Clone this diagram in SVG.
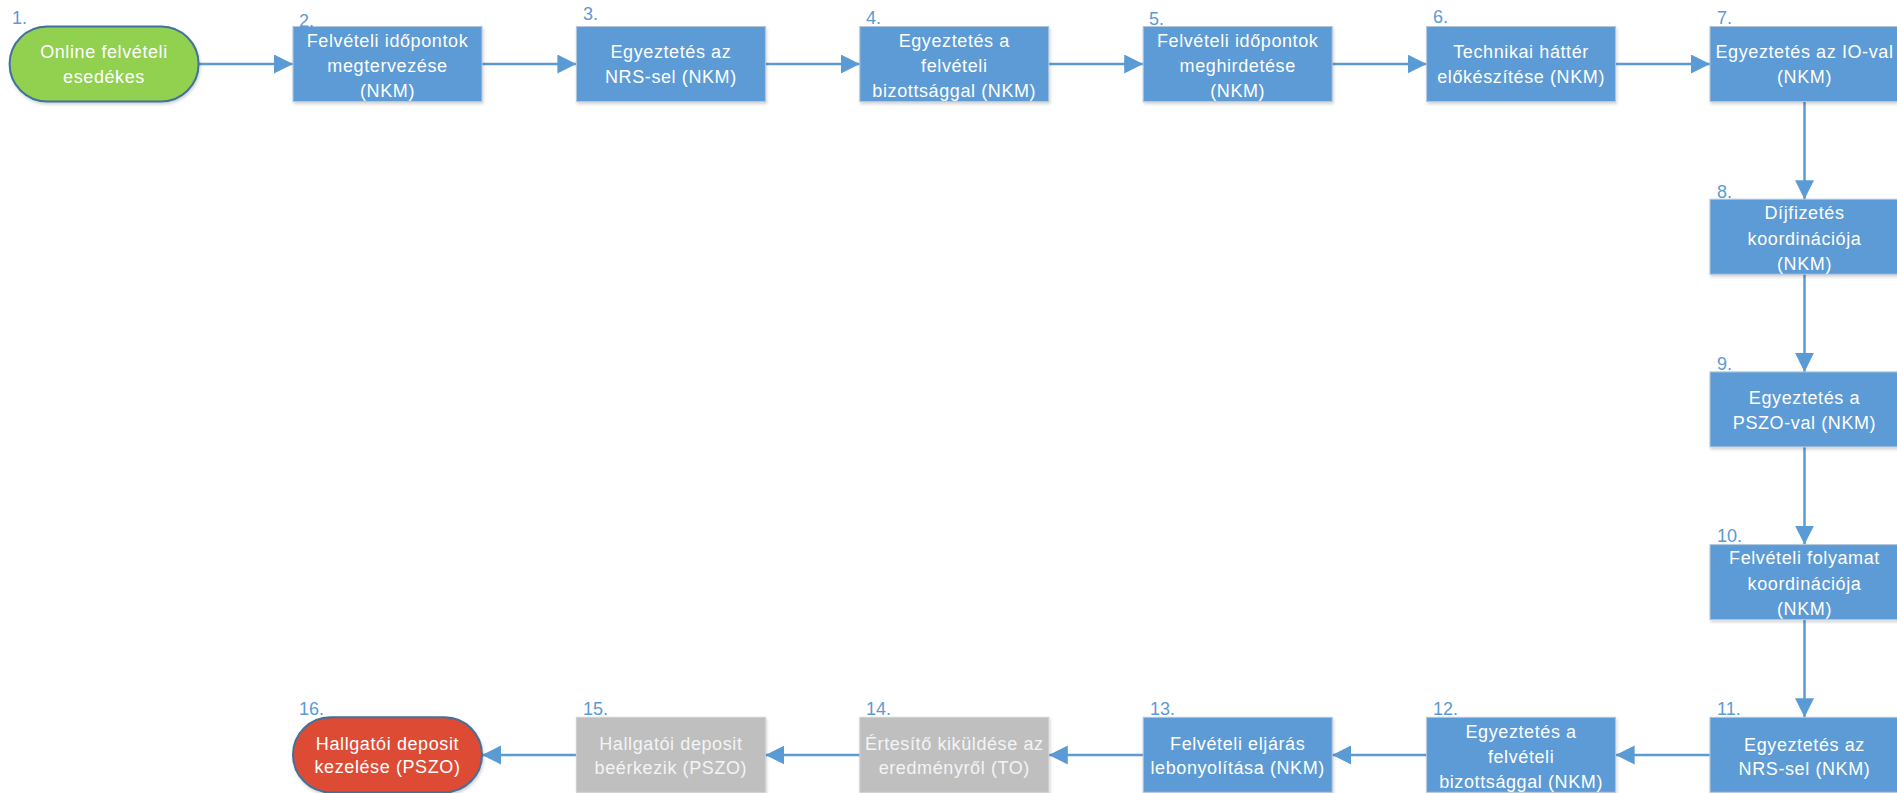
<svg xmlns="http://www.w3.org/2000/svg" width="1897" height="793" viewBox="0 0 1897 793">
<style>
.box{fill:#5B9BD5;stroke:#B4C7DC;stroke-width:1}
.grey{fill:#BFBFBF;stroke:#D0D0D0;stroke-width:1}
.start{fill:#92D050;stroke:#41719C;stroke-width:2}
.end{fill:#DD4B35;stroke:#41719C;stroke-width:2}
.t{font-family:"Liberation Sans",Arial,sans-serif;font-size:18px;fill:#FFFFFF;text-anchor:middle;letter-spacing:0.6px}
.tg{fill:#F4F4F4}
.n{font-family:"Liberation Sans",Arial,sans-serif;font-size:18px;fill:#5B9BD5}
.c{fill:none;stroke:#5B9BD5;stroke-width:2.5}
</style>
<defs>
<marker id="ah" markerUnits="userSpaceOnUse" markerWidth="20" markerHeight="20" refX="19" refY="9.5" orient="auto">
<path d="M0,0 L19,9.5 L0,19 z" fill="#5B9BD5"/>
</marker>
<filter id="sh" x="-10%" y="-10%" width="120%" height="130%">
<feDropShadow dx="1" dy="2" stdDeviation="1.5" flood-color="#000" flood-opacity="0.18"/>
</filter>
</defs>
<rect width="1897" height="793" fill="#FFFFFF"/>
<g id="connectors">
<line class="c" x1="198.6" y1="64" x2="293" y2="64" marker-end="url(#ah)"/>
<line class="c" x1="482" y1="64" x2="576.4" y2="64" marker-end="url(#ah)"/>
<line class="c" x1="765.4" y1="64" x2="859.8" y2="64" marker-end="url(#ah)"/>
<line class="c" x1="1048.8" y1="64" x2="1143.2" y2="64" marker-end="url(#ah)"/>
<line class="c" x1="1332.2" y1="64" x2="1426.6" y2="64" marker-end="url(#ah)"/>
<line class="c" x1="1615.6" y1="64" x2="1710" y2="64" marker-end="url(#ah)"/>
<line class="c" x1="1804.5" y1="101.5" x2="1804.5" y2="199.2" marker-end="url(#ah)"/>
<line class="c" x1="1804.5" y1="274.2" x2="1804.5" y2="371.9" marker-end="url(#ah)"/>
<line class="c" x1="1804.5" y1="446.9" x2="1804.5" y2="544.6" marker-end="url(#ah)"/>
<line class="c" x1="1804.5" y1="619.6" x2="1804.5" y2="717.3" marker-end="url(#ah)"/>
<line class="c" x1="1710" y1="755" x2="1615.6" y2="755" marker-end="url(#ah)"/>
<line class="c" x1="1426.6" y1="755" x2="1332.2" y2="755" marker-end="url(#ah)"/>
<line class="c" x1="1143.2" y1="755" x2="1048.8" y2="755" marker-end="url(#ah)"/>
<line class="c" x1="859.8" y1="755" x2="765.4" y2="755" marker-end="url(#ah)"/>
<line class="c" x1="576.4" y1="755" x2="482" y2="755" marker-end="url(#ah)"/>
</g>
<g id="n1">
<text class="n" x="12" y="24">1.</text>
<rect class="start" x="9.6" y="26.5" width="189" height="75" rx="37.5" filter="url(#sh)"/>
<text class="t" x="104" y="58">Online felvételi</text>
<text class="t" x="104" y="83">esedékes</text>
</g>
<g id="n2">
<rect class="box" x="293" y="26.5" width="189" height="75" filter="url(#sh)"/>
<text class="n" x="299" y="27">2.</text>
<text class="t" x="387.5" y="47">Felvételi időpontok</text>
<text class="t" x="387.5" y="72">megtervezése</text>
<text class="t" x="387.5" y="97">(NKM)</text>
</g>
<g id="n3">
<text class="n" x="583" y="20">3.</text>
<rect class="box" x="576.4" y="26.5" width="189" height="75" filter="url(#sh)"/>
<text class="t" x="670.9" y="58">Egyeztetés az</text>
<text class="t" x="670.9" y="83">NRS-sel (NKM)</text>
</g>
<g id="n4">
<text class="n" x="866" y="24">4.</text>
<rect class="box" x="859.8" y="26.5" width="189" height="75" filter="url(#sh)"/>
<text class="t" x="954.3" y="47">Egyeztetés a</text>
<text class="t" x="954.3" y="72">felvételi</text>
<text class="t" x="954.3" y="97">bizottsággal (NKM)</text>
</g>
<g id="n5">
<text class="n" x="1149" y="25">5.</text>
<rect class="box" x="1143.2" y="26.5" width="189" height="75" filter="url(#sh)"/>
<text class="t" x="1237.7" y="47">Felvételi időpontok</text>
<text class="t" x="1237.7" y="72">meghirdetése</text>
<text class="t" x="1237.7" y="97">(NKM)</text>
</g>
<g id="n6">
<text class="n" x="1433" y="23">6.</text>
<rect class="box" x="1426.6" y="26.5" width="189" height="75" filter="url(#sh)"/>
<text class="t" x="1521.1" y="58">Technikai háttér</text>
<text class="t" x="1521.1" y="83">előkészítése (NKM)</text>
</g>
<g id="n7">
<text class="n" x="1717" y="24">7.</text>
<rect class="box" x="1710" y="26.5" width="189" height="75" filter="url(#sh)"/>
<text class="t" x="1804.5" y="58">Egyeztetés az IO-val</text>
<text class="t" x="1804.5" y="83">(NKM)</text>
</g>
<g id="n8">
<text class="n" x="1717" y="198">8.</text>
<rect class="box" x="1710" y="199.2" width="189" height="75" filter="url(#sh)"/>
<text class="t" x="1804.5" y="219">Díjfizetés</text>
<text class="t" x="1804.5" y="245">koordinációja</text>
<text class="t" x="1804.5" y="270">(NKM)</text>
</g>
<g id="n9">
<text class="n" x="1717" y="370">9.</text>
<rect class="box" x="1710" y="371.9" width="189" height="75" filter="url(#sh)"/>
<text class="t" x="1804.5" y="404">Egyeztetés a</text>
<text class="t" x="1804.5" y="429">PSZO-val (NKM)</text>
</g>
<g id="n10">
<text class="n" x="1717" y="542">10.</text>
<rect class="box" x="1710" y="544.6" width="189" height="75" filter="url(#sh)"/>
<text class="t" x="1804.5" y="564">Felvételi folyamat</text>
<text class="t" x="1804.5" y="590">koordinációja</text>
<text class="t" x="1804.5" y="615">(NKM)</text>
</g>
<g id="n11">
<text class="n" x="1717" y="715">11.</text>
<rect class="box" x="1710" y="717.3" width="189" height="75" filter="url(#sh)"/>
<text class="t" x="1804.5" y="751">Egyeztetés az</text>
<text class="t" x="1804.5" y="775">NRS-sel (NKM)</text>
</g>
<g id="n12">
<text class="n" x="1433" y="715">12.</text>
<rect class="box" x="1426.6" y="717.3" width="189" height="75" filter="url(#sh)"/>
<text class="t" x="1521.1" y="738">Egyeztetés a</text>
<text class="t" x="1521.1" y="763">felvételi</text>
<text class="t" x="1521.1" y="788">bizottsággal (NKM)</text>
</g>
<g id="n13">
<text class="n" x="1150" y="715">13.</text>
<rect class="box" x="1143.2" y="717.3" width="189" height="75" filter="url(#sh)"/>
<text class="t" x="1237.7" y="750">Felvételi eljárás</text>
<text class="t" x="1237.7" y="774">lebonyolítása (NKM)</text>
</g>
<g id="n14">
<text class="n" x="866" y="715">14.</text>
<rect class="grey" x="859.8" y="717.3" width="189" height="75" filter="url(#sh)"/>
<text class="t tg" x="954.3" y="750">Értesítő kiküldése az</text>
<text class="t tg" x="954.3" y="774">eredményről (TO)</text>
</g>
<g id="n15">
<text class="n" x="583" y="715">15.</text>
<rect class="grey" x="576.4" y="717.3" width="189" height="75" filter="url(#sh)"/>
<text class="t tg" x="670.9" y="750">Hallgatói deposit</text>
<text class="t tg" x="670.9" y="774">beérkezik (PSZO)</text>
</g>
<g id="n16">
<text class="n" x="299" y="715">16.</text>
<rect class="end" x="293" y="717.3" width="189" height="75" rx="37.5" filter="url(#sh)"/>
<text class="t" x="387.5" y="750">Hallgatói deposit</text>
<text class="t" x="387.5" y="773">kezelése (PSZO)</text>
</g>
</svg>
